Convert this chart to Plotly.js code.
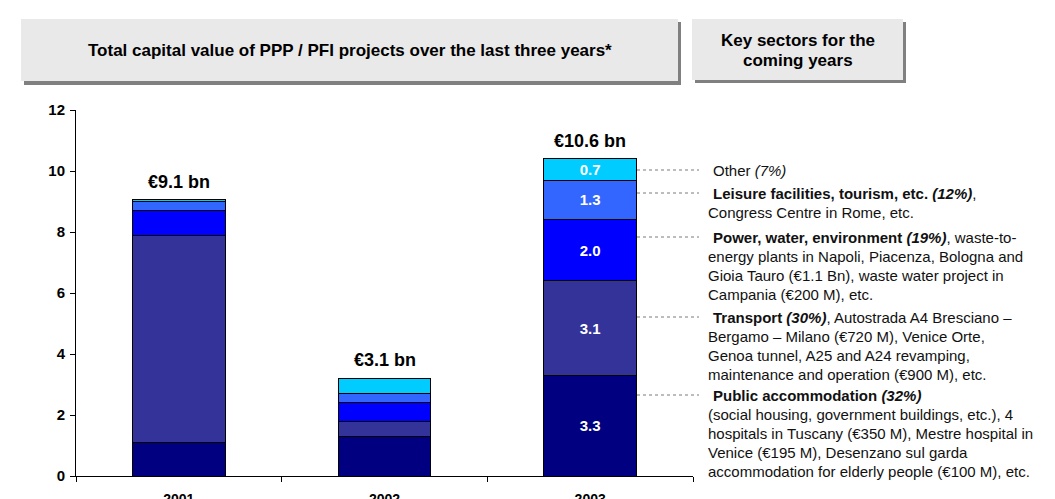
<!DOCTYPE html>
<html>
<head>
<meta charset="utf-8">
<script src="https://cdn.plot.ly/plotly-3.0.1.min.js"></script>
<style>
  body { margin: 0; background: #fff; }
  #plot { width: 1055px; height: 499px; }
</style>
</head>
<body>
<div id="plot"></div>
<script>
// data (EUR bn)
const years = ['2001', '2002', '2003'];
const publicAcc = [1.1, 1.3, 3.3];
const transport = [6.8, 0.5, 3.1];
const power = [0.8, 0.6, 2.0];
const leisure = [0.3, 0.3, 1.3];
const other = [0.05, 0.5, 0.7];
const totalLabels = ['€9.1 bn', '€3.1 bn', '€10.6 bn'];
const labelledYear = '2003';

const sectorNotes = [
  ['Other <i>(7%)</i>'],
  ['<b>Leisure facilities, tourism, etc. <i>(12%)</i></b>,', 'Congress Centre in Rome, etc.'],
  ['<b>Power, water, environment <i>(19%)</i></b>, waste-to-',
   'energy plants in Napoli, Piacenza, Bologna and',
   'Gioia Tauro (€1.1 Bn), waste water project in',
   'Campania (€200 M), etc.'],
  ['<b>Transport <i>(30%)</i></b>, Autostrada A4 Bresciano –',
   'Bergamo – Milano (€720 M), Venice Orte,',
   'Genoa tunnel, A25 and A24 revamping,',
   'maintenance and operation (€900 M), etc.'],
  ['<b>Public accommodation <i>(32%)</i></b>',
   '(social housing, government buildings, etc.), 4',
   'hospitals in Tuscany (€350 M), Mestre hospital in',
   'Venice (€195 M), Desenzano sul garda',
   'accommodation for elderly people (€100 M), etc.']
];

const series = [
  { name: 'Public accommodation', vals: publicAcc, color: '#000080' },
  { name: 'Transport', vals: transport, color: '#333399' },
  { name: 'Power, water, environment', vals: power, color: '#0000FF' },
  { name: 'Leisure facilities, tourism', vals: leisure, color: '#3366FF' },
  { name: 'Other', vals: other, color: '#00CCFF' }
];

const font = 'Arial, Liberation Sans, sans-serif';

const traces = series.map(s => ({
  type: 'bar',
  x: years,
  y: s.vals,
  name: s.name,
  marker: { color: s.color, line: { color: '#000', width: 1 } },
  text: s.vals.map((v, i) => years[i] === labelledYear ? v.toFixed(1) : ''),
  textposition: 'inside',
  insidetextanchor: 'middle',
  textangle: 0,
  constraintext: 'none',
  textfont: { color: '#fff', size: 15, weight: 700, family: font },
  hoverinfo: 'x+y+name'
}));

const totals = years.map((_, i) => series.reduce((a, s) => a + s.vals[i], 0));

// plot area in pixels
const L = 76, R = 693, T = 110, B = 476;
const X = px => (px - L) / (R - L);
const Y = py => (B - py) / (B - T);

const annotations = years.map((yr, i) => ({
  x: i, y: totals[i], xref: 'x', yref: 'y',
  text: '<b>' + totalLabels[i] + '</b>',
  showarrow: false, xanchor: 'center', yanchor: 'bottom', yshift: 6,
  font: { size: 18, color: '#000', family: font }
}));

// header boxes
const shapes = [
  { type: 'rect', xref: 'paper', yref: 'paper', x0: X(24), x1: X(681), y0: Y(85), y1: Y(22), fillcolor: '#808080', line: { width: 0 } },
  { type: 'rect', xref: 'paper', yref: 'paper', x0: X(21), x1: X(678), y0: Y(81), y1: Y(19), fillcolor: '#E9E9E9', line: { width: 0 } },
  { type: 'rect', xref: 'paper', yref: 'paper', x0: X(695), x1: X(906), y0: Y(83), y1: Y(22), fillcolor: '#808080', line: { width: 0 } },
  { type: 'rect', xref: 'paper', yref: 'paper', x0: X(692), x1: X(903), y0: Y(80), y1: Y(19), fillcolor: '#E9E9E9', line: { width: 0 } }
];

const header = (x, y, t) => ({
  xref: 'paper', yref: 'paper', x: X(x), y: Y(y), showarrow: false,
  xanchor: 'center', yanchor: 'middle',
  text: '<b>' + t + '</b>', font: { size: 17, color: '#000', family: font }
});
annotations.push(header(350, 50, 'Total capital value of PPP / PFI projects over the last three years*'));
annotations.push(header(798, 40, 'Key sectors for the'));
annotations.push(header(798, 60, 'coming years'));

// sector notes with dotted leaders
const noteTops = [170, 193, 237, 317, 395];
const lineGap = 19;
sectorNotes.forEach((lines, k) => {
  shapes.push({
    type: 'line', xref: 'paper', yref: 'paper',
    x0: X(637), x1: X(699), y0: Y(noteTops[k]), y1: Y(noteTops[k]),
    line: { color: '#7a7a7a', width: 1, dash: 'dot' }
  });
  lines.forEach((t, j) => {
    annotations.push({
      xref: 'paper', yref: 'paper', x: X(j === 0 ? 711 : 706), y: Y(noteTops[k] + j * lineGap),
      xanchor: 'left', yanchor: 'middle', showarrow: false, align: 'left',
      text: t, font: { size: 15, color: '#111', family: font }
    });
  });
});

Plotly.newPlot('plot', traces, {
  width: 1055, height: 499,
  margin: { l: L, r: 1055 - R, t: T, b: 499 - B },
  barmode: 'stack',
  bargap: 0.548,
  showlegend: false,
  paper_bgcolor: '#fff',
  plot_bgcolor: '#fff',
  font: { family: font, color: '#000' },
  xaxis: {
    type: 'category',
    range: [-0.5, 2.5],
    showline: true, linecolor: '#000', linewidth: 1,
    ticks: 'outside', tickson: 'boundaries', ticklen: 5, tickcolor: '#000',
    tickfont: { size: 14, weight: 700 },
    ticklabelstandoff: 10,
    showgrid: false
  },
  yaxis: {
    range: [0, 12], dtick: 2,
    showline: true, linecolor: '#000', linewidth: 1,
    ticks: 'outside', ticklen: 5, tickcolor: '#000',
    tickfont: { size: 15, weight: 700 },
    ticklabelstandoff: 2,
    showgrid: false, zeroline: false
  },
  shapes: shapes,
  annotations: annotations
}, { displayModeBar: false, staticPlot: true });
</script>
</body>
</html>
